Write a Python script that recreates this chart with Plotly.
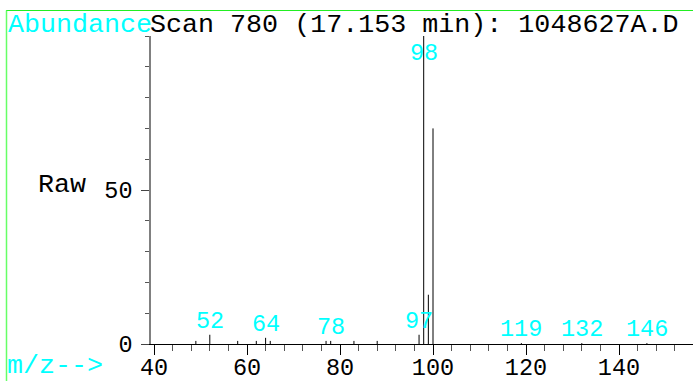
import plotly.graph_objects as go

# Mass spectrum, scan 780
mz = [49, 52, 58, 62, 64, 65, 77, 78, 83, 88, 97, 98, 99, 100, 119, 132, 146]
abundance = [1, 3, 1, 1, 2, 1, 1, 1, 1, 1, 3, 100, 16, 70, 0.3, 0.3, 0.3]
labelled_mz = [52, 64, 78, 97, 98, 119, 132, 146]

title_text = "Scan 780 (17.153 min): 1048627A.D"
y_tick_vals = [0, 50]
x_tick_vals = [40, 60, 80, 100, 120, 140]

FONT = "Liberation Mono"
CYAN = "#00ffff"
W, H = 693, 381
L, R, T, B = 142, 0, 36, 37
PW, PH = W - L - R, H - T - B


def px(x):
    return (x - L) / PW


def py(y):
    return (H - B - y) / PH


# stick lines, one per ion
xs, ys = [], []
for m, a in zip(mz, abundance):
    xs += [m, m, None]
    ys += [0, a, None]

fig = go.Figure(go.Scatter(x=xs, y=ys, mode="lines",
                           line=dict(color="black", width=1),
                           cliponaxis=False, hoverinfo="skip"))

annotations = []
for m in labelled_mz:
    a = abundance[mz.index(m)]
    top = a > 90
    annotations.append(dict(
        x=m, y=a, xref="x", yref="y", text=str(m), showarrow=False,
        xanchor="center", yanchor="top" if top else "bottom",
        yshift=-2,
        font=dict(family=FONT, size=23.5, color=CYAN)))

annotations += [
    dict(x=px(6), y=py(25), xref="paper", yref="paper", text="Abundance",
         showarrow=False, xanchor="left", yanchor="middle",
         font=dict(family=FONT, size=26.7, color=CYAN)),
    dict(x=px(148), y=py(25), xref="paper", yref="paper", text=title_text,
         showarrow=False, xanchor="left", yanchor="middle",
         font=dict(family=FONT, size=26.7, color="black")),
    dict(x=px(36), y=py(185), xref="paper", yref="paper", text="Raw",
         showarrow=False, xanchor="left", yanchor="middle",
         font=dict(family=FONT, size=26.7, color="black")),
    dict(x=px(5), y=py(366), xref="paper", yref="paper", text="m/z-->",
         showarrow=False, xanchor="left", yanchor="middle",
         font=dict(family=FONT, size=26.7, color=CYAN)),
]

shapes = [
    # green frame, top and left edges
    dict(type="line", xref="paper", yref="paper",
         x0=px(6), x1=px(W), y0=py(10.5), y1=py(10.5),
         line=dict(color="#22ee22", width=1)),
    dict(type="line", xref="paper", yref="paper",
         x0=px(6.5), x1=px(6.5), y0=py(10.5), y1=py(H),
         line=dict(color="#66ff66", width=1.5)),
]

fig.update_layout(
    width=W, height=H,
    margin=dict(l=L, r=R, t=T, b=B, pad=0, autoexpand=False),
    paper_bgcolor="white", plot_bgcolor="white",
    showlegend=False,
    annotations=annotations, shapes=shapes,
    xaxis=dict(
        range=[40 - 12 / 4.65, 40 + (W - 154) / 4.65],
        automargin=False,
        tickvals=x_tick_vals, ticks="outside", ticklen=10, tickwidth=1,
        tickcolor="black", showline=True, linecolor="black", linewidth=1,
        showgrid=False, zeroline=False, ticklabelstandoff=-8,
        tickfont=dict(family=FONT, size=23.5, color="black"),
        minor=dict(tick0=40, dtick=4, ticks="outside", ticklen=6,
                   tickcolor="#555555", tickwidth=1, showgrid=False),
    ),
    yaxis=dict(
        range=[0, 100], anchor="free", position=px(150),
        automargin=False,
        tickvals=y_tick_vals, ticks="outside", ticklen=8, tickwidth=1,
        tickcolor="#444444", showline=True, linecolor="#808080", linewidth=1.5,
        showgrid=False, zeroline=False, ticklabelstandoff=4,
        tickfont=dict(family=FONT, size=23.5, color="black"),
        minor=dict(dtick=10, ticks="outside", ticklen=4,
                   tickcolor="#555555", tickwidth=1, showgrid=False),
    ),
)

fig.write_html("out.html")
